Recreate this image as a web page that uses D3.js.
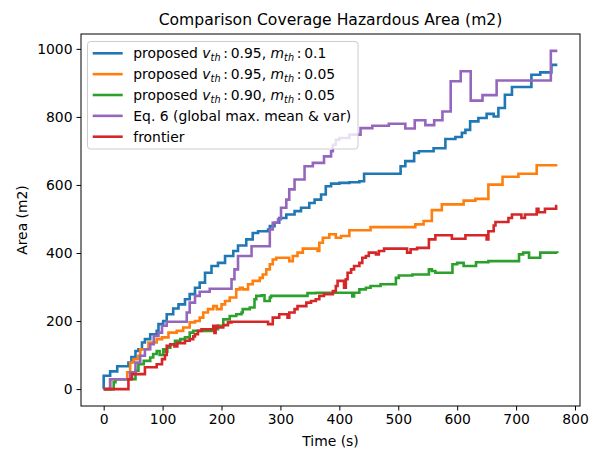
<!DOCTYPE html>
<html>
<head>
<meta charset="utf-8">
<script src="https://cdn.jsdelivr.net/npm/d3@7"></script>
<style>
  body { margin: 0; background: #fff; }
  svg text { font-family: "DejaVu Sans", sans-serif; }
</style>
</head>
<body>
<svg id="grafico"></svg>
<script>
// series: [time (s), area (m2)], drawn as steps
let blueSteps = [[0,0],[0,39],[11,52],[23,67],[42,78],[47,94],[54,112],[59,117],[65,137],[70,147],[79,161],[90,171],[93,191],[101,200],[107,220],[118,237],[127,249],[138,264],[146,279],[155,298],[163,313],[172,342],[183,362],[194,371],[206,391],[220,406],[228,422],[242,440],[253,459],[262,464],[279,469],[282,479],[290,489],[298,503],[310,513],[324,523],[335,533],[349,547],[358,557],[369,572],[377,596],[386,604],[400,606],[417,608],[434,611],[442,633],[504,655],[512,670],[527,694],[535,699],[560,708],[580,735],[597,741],[608,753],[614,762],[622,787],[636,797],[650,809],[662,801],[670,826],[681,865],[693,888],[726,924],[741,931],[760,953],[770,953]];
let orangeSteps = [[0,0],[11,29],[40,49],[45,78],[51,88],[59,98],[62,117],[76,137],[90,147],[99,152],[110,166],[124,171],[135,181],[146,196],[155,200],[163,210],[169,225],[177,235],[186,244],[192,235],[200,249],[206,259],[214,269],[225,293],[231,298],[236,293],[245,308],[253,318],[265,327],[270,337],[276,352],[282,367],[287,381],[293,386],[315,376],[321,391],[329,401],[338,413],[363,406],[366,430],[372,445],[383,455],[394,445],[403,450],[417,467],[453,476],[529,484],[543,494],[557,526],[574,543],[611,554],[631,559],[653,601],[677,624],[704,633],[735,658],[770,658]];
let greenSteps = [[0,0],[17,20],[20,29],[54,54],[59,73],[68,83],[79,93],[84,103],[90,112],[95,100],[101,117],[105,110],[108,122],[113,132],[121,142],[130,147],[138,152],[146,166],[152,171],[186,176],[194,186],[203,205],[214,215],[225,220],[234,225],[236,235],[248,240],[256,264],[259,274],[268,276],[273,259],[282,269],[284,274],[346,282],[360,283],[422,272],[425,283],[434,293],[445,298],[453,303],[470,308],[496,327],[501,334],[524,337],[552,352],[557,347],[563,342],[592,367],[600,371],[611,362],[632,373],[653,376],[705,396],[712,401],[722,386],[741,401],[770,400]];
let purpleSteps = [[0,0],[11,29],[45,49],[54,78],[62,98],[70,117],[79,132],[85,156],[93,166],[99,186],[107,198],[141,225],[146,254],[155,274],[163,286],[180,295],[217,323],[222,352],[228,391],[251,420],[282,469],[287,489],[296,499],[301,533],[310,557],[315,587],[324,616],[341,655],[355,665],[374,684],[386,699],[389,718],[394,733],[400,738],[417,748],[436,767],[456,774],[484,780],[512,766],[528,790],[546,776],[561,790],[575,816],[589,905],[606,934],[623,848],[643,864],[667,907],[759,994],[770,994]];
let redSteps = [[0,0],[42,29],[48,44],[70,64],[90,73],[99,88],[104,100],[107,127],[113,132],[120,125],[125,135],[132,135],[138,142],[146,147],[152,155],[155,161],[160,171],[166,176],[186,186],[188,165],[190,186],[194,181],[203,188],[211,196],[217,198],[279,191],[287,210],[298,220],[312,210],[315,225],[324,235],[329,244],[344,254],[352,259],[360,264],[366,274],[374,279],[389,288],[394,303],[397,318],[408,298],[411,323],[414,342],[420,352],[425,362],[434,371],[439,386],[445,391],[450,401],[462,396],[467,406],[476,413],[515,401],[521,411],[532,415],[552,440],[563,452],[591,442],[614,452],[650,440],[653,464],[662,481],[665,491],[687,503],[693,513],[709,503],[715,513],[735,530],[738,520],[749,530],[768,538],[770,538]];

let xTicks = [0, 100, 200, 300, 400, 500, 600, 700, 800];
let yTicks = [0, 200, 400, 600, 800, 1000];

let series = [
    {nome: "blue", dados: blueSteps, cor: "#1f77b4"},
    {nome: "orange", dados: orangeSteps, cor: "#ff7f0e"},
    {nome: "green", dados: greenSteps, cor: "#2ca02c"},
    {nome: "purple", dados: purpleSteps, cor: "#9467bd"},
    {nome: "red", dados: redSteps, cor: "#d62728"}
];

let width = 598, height = 450;
let fonte = 13.9;
let svg = d3.select("#grafico")
    .attr("width", width)
    .attr("height", height)
    .attr("viewBox", "0 0 " + width + " " + height);

let esq = 81, dir = 580, topo = 34, base = 406;

// matplotlib style 5% margins around the data
let xScale = d3.scaleLinear().domain([-38.5, 808.5]).range([esq, dir]);
let yScale = d3.scaleLinear().domain([-49.7, 1043.7]).range([base, topo]);

let linha = d3.line()
    .x(d => xScale(d[0]))
    .y(d => yScale(d[1]))
    .curve(d3.curveStepAfter);

let grupo = svg.append("g");
grupo.selectAll("path.serie")
    .data(series)
    .enter().append("path")
    .attr("class", "serie")
    .attr("d", d => linha(d.dados))
    .attr("fill", "none")
    .attr("stroke", d => d.cor)
    .attr("stroke-width", 2.6)
    .attr("stroke-linejoin", "miter");

// eixos
let eixoX = svg.append("g")
    .attr("transform", "translate(0," + base + ")")
    .call(d3.axisBottom(xScale).tickValues(xTicks).tickFormat(d3.format("d"))
        .tickSize(4.5).tickPadding(4).tickSizeOuter(0));
let eixoY = svg.append("g")
    .attr("transform", "translate(" + esq + ",0)")
    .call(d3.axisLeft(yScale).tickValues(yTicks).tickFormat(d3.format("d"))
        .tickSize(4.5).tickPadding(4).tickSizeOuter(0));

[eixoX, eixoY].forEach(function(g){
    g.select(".domain").remove();
    g.selectAll("text").attr("font-size", fonte).attr("fill", "#000")
        .attr("font-family", "DejaVu Sans");
    g.selectAll("line").attr("stroke", "#000").attr("stroke-width", 1);
});

svg.append("rect")
    .attr("x", esq).attr("y", topo)
    .attr("width", dir - esq).attr("height", base - topo)
    .attr("fill", "none").attr("stroke", "#000").attr("stroke-width", 1);

// titulo e rotulos
svg.append("text")
    .attr("x", (esq + dir) / 2).attr("y", 25)
    .attr("text-anchor", "middle").attr("font-size", 15.6)
    .text("Comparison Coverage Hazardous Area (m2)");

svg.append("text")
    .attr("x", (esq + dir) / 2).attr("y", 446)
    .attr("text-anchor", "middle").attr("font-size", fonte)
    .text("Time (s)");

svg.append("text")
    .attr("transform", "translate(27," + ((topo + base) / 2) + ") rotate(-90)")
    .attr("text-anchor", "middle").attr("font-size", fonte)
    .text("Area (m2)");

// legenda
let legenda = svg.append("g");
legenda.append("rect")
    .attr("x", 87.5).attr("y", 41.5)
    .attr("width", 270.5).attr("height", 107.5)
    .attr("rx", 3).attr("ry", 3)
    .attr("fill", "#fff").attr("fill-opacity", 0.8)
    .attr("stroke", "#ccc").attr("stroke-width", 1);

let rotulos = [
    {tipo: "math", v: "0.95", m: "0.1"},
    {tipo: "math", v: "0.95", m: "0.05"},
    {tipo: "math", v: "0.90", m: "0.05"},
    {tipo: "texto", t: "Eq. 6 (global max. mean & var)"},
    {tipo: "texto", t: "frontier"}
];

rotulos.forEach(function(r, i){
    let cy = 53.3 + i * 20.85;
    legenda.append("line")
        .attr("x1", 92.7).attr("x2", 122.7)
        .attr("y1", cy).attr("y2", cy)
        .attr("stroke", series[i].cor).attr("stroke-width", 2.6);
    let txt = legenda.append("text")
        .attr("x", 133.3).attr("y", cy + 4.9)
        .attr("font-size", fonte);
    if (r.tipo === "texto") {
        txt.text(r.t);
    } else {
        txt.append("tspan").text("proposed ");
        txt.append("tspan").attr("font-style", "italic").text("v");
        txt.append("tspan").attr("font-style", "italic").attr("font-size", 9.7).attr("dy", 3).text("th");
        txt.append("tspan").attr("dy", -3).text("\u2009:\u2009" + r.v + ", ");
        txt.append("tspan").attr("font-style", "italic").text("m");
        txt.append("tspan").attr("font-style", "italic").attr("font-size", 9.7).attr("dy", 3).text("th");
        txt.append("tspan").attr("dy", -3).text("\u2009:\u2009" + r.m);
    }
});
</script>
</body>
</html>
